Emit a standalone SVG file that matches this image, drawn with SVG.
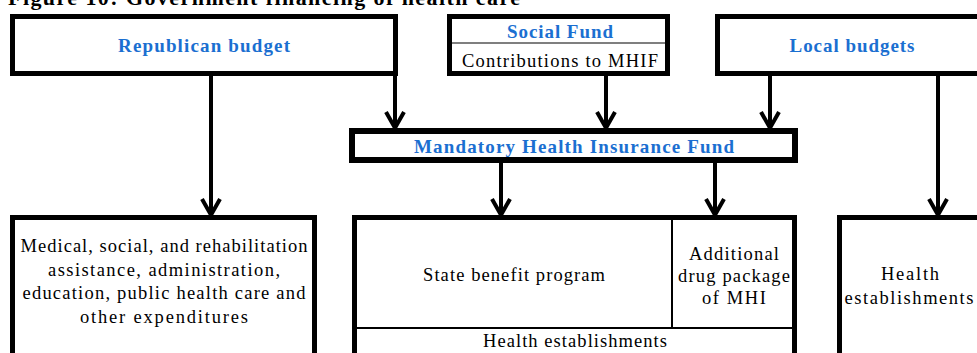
<svg xmlns="http://www.w3.org/2000/svg" width="977" height="353" viewBox="0 0 977 353" font-family="'Liberation Serif', 'Times New Roman', Times, serif">
<style>
.box{fill:#fff;stroke:#000;stroke-width:5}
.conn{stroke:#000;stroke-width:4;fill:none}
text{font-family:'Liberation Serif','Times New Roman',Times,serif}
.t{font-size:18.5px;fill:#000;text-anchor:middle}
.b{font-weight:bold;fill:#1b6fd1;font-size:19px}
.title{font-size:22px;font-weight:bold;fill:#000}
.div{stroke:#000;stroke-width:2;fill:none}
</style>
<defs>
<marker id="arr" markerUnits="userSpaceOnUse" markerWidth="30" markerHeight="30" refX="0" refY="0" viewBox="-22 -15 26 30" orient="auto">
<path d="M-17,-9 L-1,0 L-17,9" fill="none" stroke="#000" stroke-width="4" stroke-linejoin="miter"/>
</marker>
</defs>
<rect width="977" height="353" fill="#fff"/>
<text class="title" x="8" y="5" textLength="512" lengthAdjust="spacing">Figure 10: Government financing of health care</text>

<g id="connectors">
<line class="conn" x1="211" y1="76" x2="211" y2="216" marker-end="url(#arr)"/>
<line class="conn" x1="395" y1="74" x2="395" y2="129" marker-end="url(#arr)"/>
<line class="conn" x1="606" y1="76" x2="606" y2="129" marker-end="url(#arr)"/>
<line class="conn" x1="770" y1="76" x2="770" y2="129" marker-end="url(#arr)"/>
<line class="conn" x1="938" y1="76" x2="938" y2="216" marker-end="url(#arr)"/>
<line class="conn" x1="501" y1="163" x2="501" y2="216" marker-end="url(#arr)"/>
<line class="conn" x1="715" y1="163" x2="715" y2="216" marker-end="url(#arr)"/>
</g>

<g id="republican-budget">
<rect class="box" x="12.5" y="16.5" width="383" height="57"/>
<text class="t b" x="204" y="51.5" textLength="172" lengthAdjust="spacing">Republican budget</text>
</g>

<g id="social-fund">
<rect class="box" x="449.5" y="16.5" width="218" height="57"/>
<line x1="452" y1="43" x2="665" y2="43" stroke="#555" stroke-width="1.5"/>
<text class="t b" x="560" y="38" textLength="106" lengthAdjust="spacing">Social Fund</text>
<text class="t" x="560" y="67" textLength="196" lengthAdjust="spacing">Contributions to MHIF</text>
</g>

<g id="local-budgets">
<rect class="box" x="717.5" y="16.5" width="280" height="57"/>
<text class="t b" x="852" y="51.5" textLength="125" lengthAdjust="spacing">Local budgets</text>
</g>

<g id="mhif">
<rect class="box" x="352" y="131" width="443" height="29" style="stroke-width:6"/>
<text class="t b" x="574" y="153" textLength="320" lengthAdjust="spacing">Mandatory Health Insurance Fund</text>
</g>

<g id="other-expenditures">
<rect class="box" x="12.5" y="217.5" width="302" height="160"/>
<text class="t" x="164" y="252" textLength="287" lengthAdjust="spacing">Medical, social, and rehabilitation</text>
<text class="t" x="164" y="275.5" textLength="232" lengthAdjust="spacing">assistance, administration,</text>
<text class="t" x="164" y="299" textLength="283" lengthAdjust="spacing">education, public health care and</text>
<text class="t" x="164" y="322.5" textLength="168" lengthAdjust="spacing">other expenditures</text>
</g>

<g id="mhi-programs">
<rect class="box" x="354.5" y="217.5" width="440" height="160"/>
<line class="div" x1="672" y1="219" x2="672" y2="328"/>
<line class="div" x1="356" y1="328" x2="793" y2="328"/>
<text class="t" x="514" y="281" textLength="182" lengthAdjust="spacing">State benefit program</text>
<text class="t" x="734" y="260" textLength="90" lengthAdjust="spacing">Additional</text>
<text class="t" x="734" y="282" textLength="112" lengthAdjust="spacing">drug package</text>
<text class="t" x="734" y="304" textLength="64" lengthAdjust="spacing">of MHI</text>
<text class="t" x="575" y="347" textLength="184" lengthAdjust="spacing">Health establishments</text>
</g>

<g id="local-health-establishments">
<rect class="box" x="839.5" y="217.5" width="200" height="160"/>
<text class="t" x="910" y="280" textLength="58" lengthAdjust="spacing">Health</text>
<text class="t" x="909" y="304" textLength="129" lengthAdjust="spacing">establishments</text>
</g>
</svg>
